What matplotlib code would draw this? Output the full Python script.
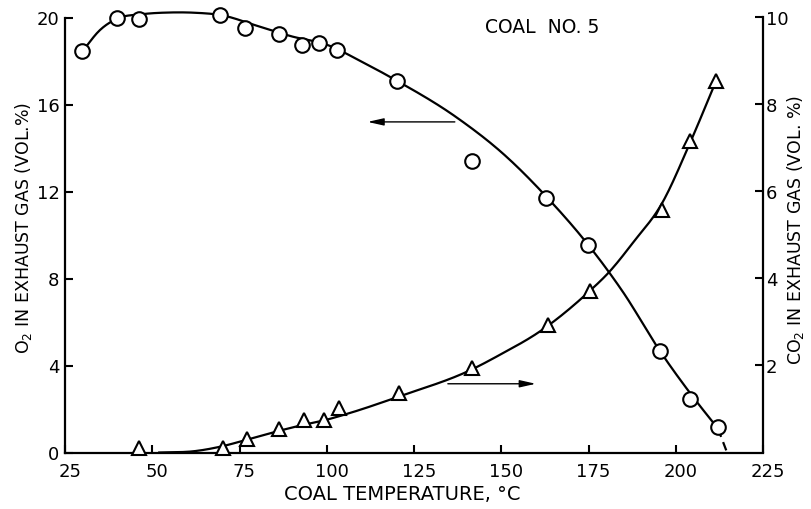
import numpy as np
import matplotlib
matplotlib.use("Agg")
import matplotlib.pyplot as plt
from matplotlib.transforms import ScaledTranslation

# measured O2 (circles, left axis) and CO2 (triangles, right axis)
o2_temp = [29.8, 39.8, 46.3, 69.5, 76.6, 86.3, 92.8, 97.9, 102.9, 120.0,
           141.5, 162.8, 174.9, 195.5, 204.1, 212.0]
o2_vals = [18.45, 20.0, 19.95, 20.1, 19.5, 19.26, 18.73, 18.84, 18.5, 17.07,
           13.4, 11.68, 9.53, 4.66, 2.45, 1.15]

co2_temp = [46.3, 70.4, 77.2, 86.3, 93.5, 99.2, 103.6, 120.8, 141.5, 163.5,
            175.3, 196.0, 204.1, 211.6]
co2_vals = [0.1, 0.11, 0.32, 0.53, 0.75, 0.75, 1.02, 1.37, 1.94, 2.93,
            3.71, 5.57, 7.16, 8.55]

# hand-drawn trend curves
o2_curve_t = [30, 35, 40, 47, 55, 62, 70, 80, 90, 100, 110, 120, 137, 151,
              163, 175, 185, 195.5, 205.3, 212.1]
o2_curve_v = [18.45, 19.42, 19.95, 20.15, 20.23, 20.22, 20.1, 19.62, 19.13,
              18.75, 17.97, 17.1, 15.43, 13.67, 11.75, 9.53, 7.35, 4.66,
              2.48, 1.10]
o2_extrap_t = [212.1, 214.7]
o2_extrap_v = [1.10, 0.0]

co2_curve_t = [52, 62, 70.4, 77.3, 86.4, 93, 99.3, 106.7, 120.8, 141.6,
               149.7, 161.2, 175.3, 180.7, 188, 196.0, 204.1, 211.6]
co2_curve_v = [0, 0.03, 0.15, 0.3, 0.5, 0.63, 0.74, 0.91, 1.29, 1.91, 2.25,
               2.79, 3.71, 4.13, 4.85, 5.72, 7.12, 8.55]

x_ticks = [25, 50, 75, 100, 125, 150, 175, 200, 225]
left_ticks = [0, 4, 8, 12, 16, 20]
right_ticks = [2, 4, 6, 8, 10]


def smooth(xk, yk, n=400):
    # cubic hermite through the knots, slopes from weighted differences
    xk = np.asarray(xk, float)
    yk = np.asarray(yk, float)
    h = np.diff(xk)
    d = np.diff(yk) / h
    m = np.empty_like(yk)
    m[0], m[-1] = d[0], d[-1]
    m[1:-1] = (h[:-1] * d[1:] + h[1:] * d[:-1]) / (h[:-1] + h[1:])
    x = np.linspace(xk[0], xk[-1], n)
    i = np.clip(np.searchsorted(xk, x) - 1, 0, len(h) - 1)
    t = (x - xk[i]) / h[i]
    h00 = 2 * t**3 - 3 * t**2 + 1
    h10 = t**3 - 2 * t**2 + t
    h01 = -2 * t**3 + 3 * t**2
    h11 = t**3 - t**2
    y = h00 * yk[i] + h10 * h[i] * m[i] + h01 * yk[i + 1] + h11 * h[i] * m[i + 1]
    return x, y


plt.rcParams['font.family'] = ['DejaVu Sans']

fig = plt.figure(figsize=(8.11, 5.10), dpi=100)
ax = fig.add_axes([65 / 811, 1 - 453.5 / 510, 698 / 811, 435 / 510])
ax2 = ax.twinx()

lw = 1.6
tx, ty = smooth(o2_curve_t, o2_curve_v)
ax.plot(tx, ty, color='black', lw=lw, zorder=2, clip_on=False)
ax.plot(o2_extrap_t, o2_extrap_v, color='black', lw=lw, ls=(0, (4, 2.5)), zorder=2)
ax.plot(o2_temp, o2_vals, 'o', ms=10.5, mfc='white', mec='black', mew=1.5,
        zorder=3, clip_on=False)

cx, cy = smooth(co2_curve_t, co2_curve_v)
ax2.plot(cx, cy, color='black', lw=lw, zorder=2)
ax2.plot(co2_temp, co2_vals, '^', ms=10, mfc='white', mec='black', mew=1.5,
         zorder=3, clip_on=False)

# arrows pointing to the axis each curve belongs to
arrow = dict(arrowstyle='-|>,head_length=0.8,head_width=0.18',
             color='black', lw=1.0, mutation_scale=12, shrinkA=0, shrinkB=0)
ax.annotate('', xy=(111.7, 15.2), xytext=(136.7, 15.2), arrowprops=arrow)
ax2.annotate('', xy=(159.9, 1.58), xytext=(134.7, 1.58), arrowprops=arrow)

ax.text(161.7, 19.6, 'COAL  NO. 5', ha='center', va='center', fontsize=13.5)

ax.set_xlim(25, 225)
ax.set_ylim(0, 20)
ax2.set_ylim(0, 10)
ax.set_xticks(x_ticks)
ax.set_yticks(left_ticks)
ax2.set_yticks(right_ticks)

for a in (ax, ax2):
    a.spines['top'].set_visible(False)
    for s in a.spines.values():
        s.set_linewidth(1.6)
ax.spines['right'].set_visible(False)
ax2.spines['left'].set_visible(False)
ax2.spines['bottom'].set_visible(False)

ax.tick_params(axis='x', direction='in', length=6, width=1.5, pad=6.5,
               labelsize=13, top=False)
ax.tick_params(axis='y', direction='in', length=6, width=1.5, pad=4,
               labelsize=13, right=False)
ax2.tick_params(axis='y', direction='in', length=6, width=1.5, pad=2,
                labelsize=13)

# x tick labels sit a little right of their ticks
shift = ScaledTranslation(5 / 100, 0, fig.dpi_scale_trans)
for lab in ax.get_xticklabels():
    lab.set_transform(lab.get_transform() + shift)

ax.set_xlabel('COAL TEMPERATURE, °C', fontsize=14)
ax.xaxis.label.set_va('center')
ax.xaxis.set_label_coords((402 - 65) / 698, -(495 - 453.5) / 435)
ax.set_ylabel(r'O$_2$ IN EXHAUST GAS (VOL.%)', fontsize=12.5)
ax.yaxis.label.set_va('center')
ax.yaxis.set_label_coords(-(65 - 24) / 698, (453.5 - 228) / 435)
ax2.set_ylabel(r'CO$_2$ IN EXHAUST GAS (VOL. %)', fontsize=12.5)
ax2.yaxis.label.set_va('center')
ax2.yaxis.set_label_coords((796 - 65) / 698, (453.5 - 230) / 435)

fig.savefig('out.png', dpi=100)
